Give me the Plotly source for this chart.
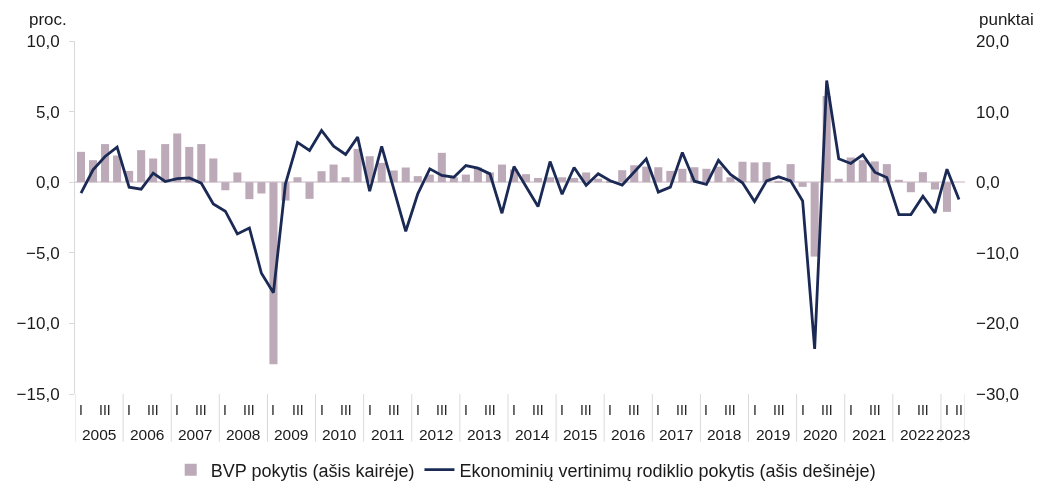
import plotly.graph_objects as go

# ---------------- data ----------------
years = [str(y) for y in range(2005, 2024)]
quarter_names = ["I", "II", "III", "IV"]

# BVP (GDP) q/q change, % (left axis); last quarter not available
gdp = [2.15, 1.56, 2.7, 1.89,
       0.8, 2.27, 1.68, 2.7,
       3.45, 2.5, 2.7, 1.68,
       -0.57, 0.69, -1.2, -0.8,
       -12.9, -1.3, 0.35, -1.18,
       0.78, 1.25, 0.35, 2.36,
       1.84, 1.37, 0.83, 1.04,
       0.43, 0.54, 2.08, 0.35,
       0.54, 1.04, 0.69, 1.25,
       0.9, 0.57, 0.3, 0.35,
       0.35, 0.3, 0.69, 0.25,
       0.1, 0.85, 1.2, 1.1,
       1.06, 0.8, 0.95, 1.06,
       0.95, 1.1, 0.35, 1.45,
       1.4, 1.42, 0.1, 1.28,
       -0.33, -5.27, 6.1, 0.24,
       1.75, 1.56, 1.47, 1.28,
       0.17, -0.71, 0.71, -0.52,
       -2.1, None]

# Economic sentiment indicator change, points (right axis)
esi = [-1.56, 1.75, 3.64, 4.96,
       -0.71, -0.99, 1.28, 0.1,
       0.52, 0.61, -0.14, -3.07,
       -4.11, -7.33, -6.48, -12.9,
       -15.65, -0.24, 5.63, 4.49,
       7.33, 5.1, 3.92, 6.38,
       -1.28, 5.06, -0.95, -6.95,
       -1.65, 1.89, 0.95, 0.71,
       2.36, 1.99, 1.18, -4.4,
       2.22, -0.6, -3.45, 2.93,
       -1.7, 2.08, -0.45, 1.2,
       0.2, -0.4, 1.45, 3.3,
       -1.4, -0.7, 4.21, 0.14,
       -0.3, 3.1, 1.1, -0.09,
       -2.74, 0.19, 0.76, 0.19,
       -2.65, -23.6, 14.4, 3.31,
       2.65, 3.88, 1.42, 0.66,
       -4.59, -4.59, -1.99, -4.35,
       1.84, -2.46]

left_ticks = [-15, -10, -5, 0, 5, 10]
right_ticks = [-30, -20, -10, 0, 10, 20]

# ---------------- styling ----------------
FONT = "Liberation Sans, Arial, sans-serif"
BAR_COLOR = "#bcaab9"
LINE_COLOR = "#1b2a55"
GRID_COLOR = "#d9d9d9"
TEXT_COLOR = "#1a1a1a"

n = len(esi)
x = list(range(n))

fig = go.Figure()
fig.add_trace(go.Bar(
    x=x, y=gdp, name="BVP pokytis (ašis kairėje)",
    marker=dict(color=BAR_COLOR, line=dict(width=0)),
    yaxis="y", hoverinfo="skip"))
fig.add_trace(go.Scatter(
    x=x, y=esi, name="Ekonominių vertinimų rodiklio pokytis (ašis dešinėje)",
    mode="lines", line=dict(color=LINE_COLOR, width=2.8),
    yaxis="y2", hoverinfo="skip"))

# category labels (quarters / years) and separators
annotations = []
shapes = []
for i in range(n):
    yi = i // 4
    q = i % 4
    last_incomplete = (yi == len(years) - 1) and (n % 4 != 0)
    if last_incomplete or q in (0, 2):
        annotations.append(dict(
            x=i, y=-0.045, xref="x", yref="paper", text=quarter_names[q],
            showarrow=False, xanchor="center", yanchor="middle",
            font=dict(size=14, family=FONT, color=TEXT_COLOR)))
for k, yr in enumerate(years):
    start = 4 * k
    end = min(4 * k + 3, n - 1)
    annotations.append(dict(
        x=(start + end) / 2, y=-0.115, xref="x", yref="paper", text=yr,
        showarrow=False, xanchor="center", yanchor="middle",
        font=dict(size=15.5, family=FONT, color=TEXT_COLOR)))
    shapes.append(dict(type="line", xref="x", yref="paper",
                       x0=start - 0.5, x1=start - 0.5, y0=0, y1=-0.135,
                       line=dict(color=GRID_COLOR, width=1)))
shapes.append(dict(type="line", xref="x", yref="paper",
                   x0=n - 0.5, x1=n - 0.5, y0=0, y1=-0.135,
                   line=dict(color=GRID_COLOR, width=1)))

annotations.append(dict(x=-0.054, y=1.06, xref="paper", yref="paper",
                        text="proc.", showarrow=False, xanchor="left",
                        yanchor="middle",
                        font=dict(size=17, family=FONT, color=TEXT_COLOR)))
annotations.append(dict(x=1.0135, y=1.06, xref="paper", yref="paper",
                        text="punktai", showarrow=False, xanchor="left",
                        yanchor="middle",
                        font=dict(size=17, family=FONT, color=TEXT_COLOR)))

fig.update_layout(
    width=1041, height=482,
    margin=dict(l=75, r=76, t=41, b=88),
    paper_bgcolor="white", plot_bgcolor="white",
    separators=", ",
    font=dict(family=FONT, size=17, color=TEXT_COLOR),
    bargap=0.33,
    showlegend=True,
    legend=dict(orientation="h", xref="container", yref="container",
                x=0.505, xanchor="center", y=0.025, yanchor="middle",
                font=dict(size=18, family=FONT, color=TEXT_COLOR),
                traceorder="normal", bgcolor="rgba(0,0,0,0)"),
    xaxis=dict(range=[-0.5, n - 0.5], showticklabels=False, showgrid=False,
               zeroline=False, showline=False, ticks="", automargin=False),
    yaxis=dict(range=[-15, 10], tickvals=left_ticks, tickformat=".1f",
               showgrid=False, zeroline=True, zerolinecolor="#e2d9df",
               zerolinewidth=1.5, showline=True, linecolor=GRID_COLOR,
               linewidth=1, ticks="outside", ticklen=5, tickcolor=GRID_COLOR,
               ticklabelstandoff=6, tickfont=dict(size=17), automargin=False),
    yaxis2=dict(range=[-30, 20], tickvals=right_ticks, tickformat=".1f",
                overlaying="y", side="right", showgrid=False, zeroline=False,
                showline=False, ticks="", ticklabelstandoff=10,
                tickfont=dict(size=17), automargin=False),
    annotations=annotations,
    shapes=shapes,
)

fig.write_html(
    "out.html",
    config={"displayModeBar": False},
    post_script=("document.body.style.margin='0px';"
                 "document.querySelectorAll('.plotly-graph-div').forEach("
                 "function(d){d.style.willChange='transform';});"))
